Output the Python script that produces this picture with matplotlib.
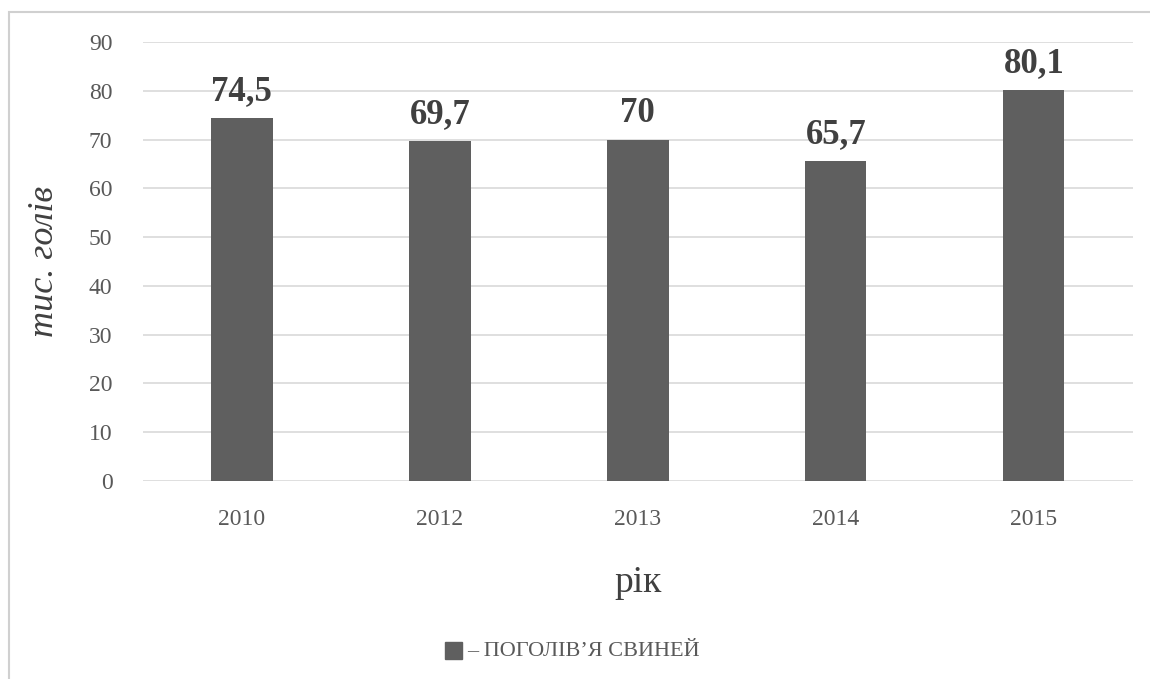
import matplotlib.pyplot as plt
from matplotlib.patches import Rectangle

# поголів'я свиней, тис. голів
roky = ["2010", "2012", "2013", "2014", "2015"]
pogoliv = [74.5, 69.7, 70, 65.7, 80.1]
pidpysy = ["74,5", "69,7", "70", "65,7", "80,1"]

plt.rcParams['font.family'] = ['Liberation Serif', 'DejaVu Serif']

fig = plt.figure(figsize=(11.5, 6.79), dpi=100)
ax = fig.add_axes([0.1243, 0.2916, 0.8607, 0.6465])

# рамка діаграми
fig.patches.append(Rectangle((9/1150, -0.1), 1.2, 1 - 12/679 + 0.1, transform=fig.transFigure,
                             fill=False, edgecolor="#d0d0d0", linewidth=1.5))

x = range(len(roky))
ax.bar(x, pogoliv, width=0.31, color="#5f5f5f", zorder=3)
for i, v in enumerate(pogoliv):
    ax.text(i, v + 2.0, pidpysy[i], ha="center", va="bottom", fontsize=25,
            fontweight="bold", color="#404040")

ax.set_ylim(0, 90)
ax.set_xlim(-0.5, 4.5)
ax.set_yticks(range(0, 91, 10))
ax.set_xticks(list(x))
ax.set_xticklabels(roky)
ax.grid(axis="y", color="#d9d9d9", linewidth=1.2, zorder=0)
ax.tick_params(length=0, labelsize=17, labelcolor="#595959")
ax.tick_params(axis="x", pad=20)
ax.tick_params(axis="y", pad=22)
for s in ax.spines.values():
    s.set_visible(False)

ax.set_ylabel("тис. голів", fontsize=26, style="italic", color="#404040", labelpad=20)
ax.set_xlabel("рік", fontsize=27, color="#404040", labelpad=26)

fig.patches.append(Rectangle((445/1150, 1 - 659/679), 17/1150, 17/679, transform=fig.transFigure,
                             color="#5f5f5f"))
fig.text(467/1150, 1 - 651/679, "– ПОГОЛІВ’Я СВИНЕЙ", fontsize=16, color="#595959", va="center")

fig.savefig("out.png", dpi=100)
